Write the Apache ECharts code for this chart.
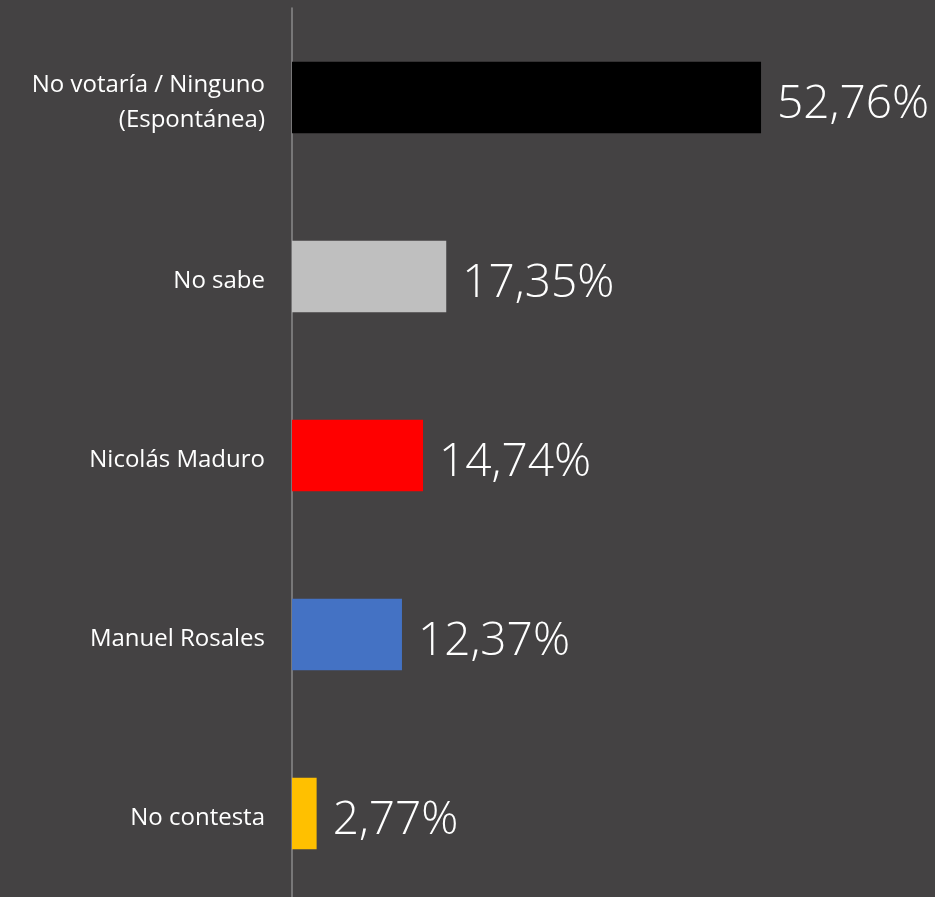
<!DOCTYPE html>
<html><head><meta charset="utf-8">
<script src="https://cdn.jsdelivr.net/npm/echarts@6/dist/echarts.min.js"></script>
<style>html,body{margin:0;padding:0;background:#444243;overflow:hidden;}#c{width:935px;height:910px;}</style>
</head><body><div id="c"></div>
<script>
const categories = ['No votaría / Ninguno\n(Espontánea)', 'No sabe', 'Nicolás Maduro', 'Manuel Rosales', 'No contesta'];
const values = [52.76, 17.35, 14.74, 12.37, 2.77];
const barColors = ['#000000', '#BFBFBF', '#FF0000', '#4472C4', '#FFC000'];

const chart = echarts.init(document.getElementById('c'));
chart.setOption({
  backgroundColor: '#444243',
  animation: false,
  grid: { left: 292, top: 8, width: 533.4, height: 895, containLabel: false },
  xAxis: { type: 'value', min: 0, max: 60, show: false },
  yAxis: {
    type: 'category', inverse: true, data: categories,
    axisLine: { show: true, lineStyle: { color: '#8a8a8a', width: 1.5 } },
    axisTick: { show: false },
    axisLabel: {
      color: '#ffffff', fontSize: 24, fontFamily: 'Open Sans', margin: 27, align: 'right',
      formatter: v => v.split('\n').map(s => '{a|' + s + '}').join('\n'),
      rich: { a: { color: '#ffffff', fontSize: 24, fontFamily: 'Open Sans', lineHeight: 35, padding: [10, 0, 0, 0], align: 'right' } }
    }
  },
  series: [{
    type: 'bar', barCategoryGap: '60%',
    data: values.map((v, i) => ({ value: v, itemStyle: { color: barColors[i] } })),
    label: {
      show: true, position: 'right', distance: 16, color: '#ffffff', fontSize: 46,
      fontFamily: 'Open Sans', fontWeight: 300, offset: [0, 7],
      formatter: p => p.value.toFixed(2).replace('.', ',') + '%'
    }
  }]
});
</script></body></html>
